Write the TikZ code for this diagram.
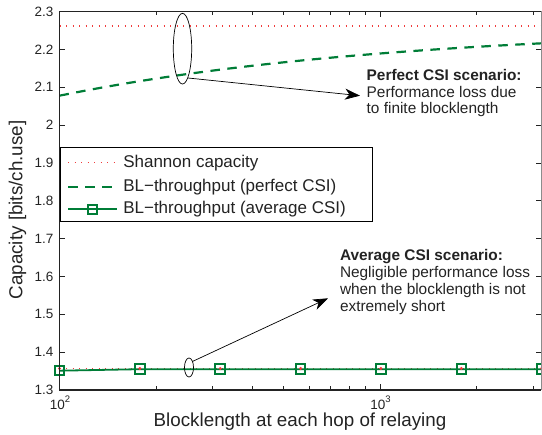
\documentclass[tikz,border=0pt]{standalone}
\usepackage{fontspec}
\setmainfont{Liberation Sans}
\usetikzlibrary{shapes.geometric,arrows.meta}
\definecolor{pgreen}{RGB}{0,125,55}
\definecolor{pred}{RGB}{240,60,60}
\definecolor{axgray}{RGB}{35,35,35}
\newcommand{\tenpow}[1]{10\raisebox{6.5pt}{\fontsize{9.5}{10}\selectfont #1}}
\begin{document}
\begin{tikzpicture}[x=1pt,y=-1pt,
  every node/.style={inner sep=0pt,outer sep=0pt},
  ticklab/.style={font=\fontsize{13.5}{15}\selectfont,text=axgray},
  axlab/.style={font=\fontsize{18.8}{20}\selectfont,text=axgray},
  legtext/.style={font=\fontsize{17}{19}\selectfont,anchor=west,text=axgray},
  annot/.style={font=\fontsize{15.4}{16.9}\selectfont,align=left,anchor=north west,text=axgray},
  tickmark/.style={line width=0.6pt,draw=axgray},
  shannon/.style={draw=pred,line width=1.3pt,dash pattern=on 1.3pt off 5.2pt},
  perfect/.style={draw=pgreen,line width=2.2pt,dash pattern=on 9.5pt off 7.5pt},
  average/.style={draw=pgreen,line width=1.8pt},
  sqmark/.style={draw=pgreen,line width=2pt,rectangle,minimum size=9.5pt,fill=none},
  reddot/.style={circle,fill=pred,minimum size=3.4pt},
  bubble/.style={ellipse,draw=black,line width=0.7pt,fill=none},
  pointer/.style={draw=black,line width=0.7pt,-{Stealth[length=15pt,width=11pt,inset=4.5pt]}}
]
\useasboundingbox (0,0) rectangle (542,435);
% data
\draw[shannon] (59.5,25.9) -- (541.7,25.9);
\draw[perfect] plot[domain=0:1.5045,samples=80] ({59.5+320.5*\x},{390-378.5*(0.96-0.1824*10^(-0.41*\x))});
\draw[shannon] (59.5,368.5) -- (541.7,368.5);
\draw[average] (59.5,370.7) -- (139.6,369.2) -- (541.7,369.2);
\foreach \k/\yy in {0/370.7,1/369.2,2/369.2,3/369.2,4/369.2,5/369.2,6/369.2} {
  \node[sqmark] (sq\k) at ({59.5+80.36*\k},\yy) {};
  \node[reddot] (rd\k) at ({59.5+80.36*\k},368.5) {};
}
% axes frame
\draw[line width=1.3pt,draw=axgray] (541,11.5) -- (59.5,11.5) -- (59.5,390) -- (541,390);
\draw[line width=1pt,draw=black!45] (541,11.5) -- (541,390);
% y ticks
\foreach \i/\t in {0/1.3,1/1.4,2/1.5,3/1.6,4/1.7,5/1.8,6/1.9,7/2,8/2.1,9/2.2,10/2.3} {
  \draw[tickmark] (59.5,{390-37.85*\i}) -- ++(5,0);
  \draw[tickmark] (541,{390-37.85*\i}) -- ++(-5,0);
  \node[ticklab,anchor=east] (yl\i) at (53.5,{390-37.85*\i}) {\t};
}
% x ticks
\foreach \n in {200,300,400,500,600,700,800,900,2000,3000} {
  \draw[tickmark] ({59.5+320.5*log10(\n/100)},390) -- ++(0,-3.5);
  \draw[tickmark] ({59.5+320.5*log10(\n/100)},11.5) -- ++(0,3.5);
}
\draw[tickmark] (380,390) -- ++(0,-6);
\draw[tickmark] (380,11.5) -- ++(0,6);
\node[ticklab,anchor=base] (xl2) at (60,409.5) {\tenpow{2}};
\node[ticklab,anchor=base] (xl3) at (380.5,409.5) {\tenpow{3}};
% axis labels
\node[axlab,anchor=base] (xlab) at (300,427) {Blocklength at each hop of relaying};
\node[axlab,rotate=90] (ylab) at (17.5,210) {Capacity [bits/ch.use]};
% legend
\node[draw=black,line width=0.8pt,fill=white,anchor=north west,minimum width=312.7pt,minimum height=74.4pt] (legend) at (60,147.3) {};
\coordinate (l1a) at (68,162.7); \coordinate (l1b) at (116.7,162.7);
\coordinate (l2a) at (68,186.7); \coordinate (l2b) at (116.7,186.7);
\coordinate (l3a) at (68,209.3); \coordinate (l3b) at (116.7,209.3);
\draw[shannon] (l1a) -- (l1b);
\draw[perfect] (l2a) -- (l2b);
\draw[average] (l3a) -- (l3b);
\node[sqmark] (lsq) at (92.3,209.3) {};
\node[legtext] (lt1) at (123.3,162.7) {Shannon capacity};
\node[legtext] (lt2) at (123.3,186.7) {BL−throughput (perfect CSI)};
\node[legtext] (lt3) at (123.3,209.3) {BL−throughput (average CSI)};
% annotations
\node[bubble,minimum width=18.4pt,minimum height=70.7pt] (e1) at (182.5,48.7) {};
\node[annot] (t1) at (366.7,69) {\textbf{Perfect CSI scenario:}\\Performance loss due\\to finite blocklength};
\coordinate (a1) at (360,95.7);
\draw[pointer] (e1.-80) -- (a1);
\node[bubble,minimum width=9pt,minimum height=19pt] (e2) at (189,367.5) {};
\node[annot] (t2) at (340,249.5) {\textbf{Average CSI scenario:}\\Negligible performance loss\\when the blocklength is not\\extremely short};
\coordinate (a2) at (328,298.3);
\draw[pointer] (e2.60) -- (a2);
\end{tikzpicture}
\end{document}
